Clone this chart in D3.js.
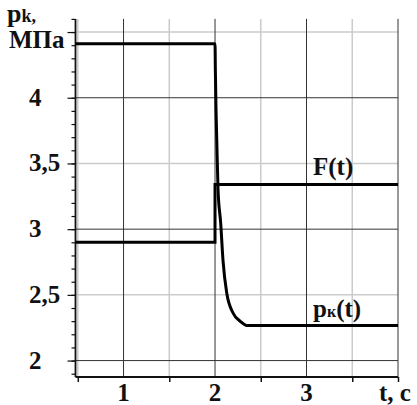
<!DOCTYPE html>
<html>
<head>
<meta charset="utf-8">
<script src="https://cdn.jsdelivr.net/npm/d3@7"></script>
<style>
  body { margin: 0; background: #fff; }
  text { font-family: "Liberation Serif", "Times New Roman", serif; font-weight: bold; fill: #111; }
</style>
</head>
<body>
<div id="chart"></div>
<script>
var w = 417;
var h = 405;

// F(t) step
var fTime = [0.475, 2.0, 2.0, 4.0];
var fValue = [2.9, 2.9, 3.34, 3.34];

// p_k(t)
var pTime = [0.475, 2.0, 2.004, 2.011, 2.019, 2.033, 2.062, 2.087, 2.128, 2.197, 2.273, 2.36, 4.0];
var pValue = [4.41, 4.41, 4.2, 3.906, 3.678, 3.30, 3.046, 2.765, 2.514, 2.362, 2.301, 2.266, 2.266];

var yMajor = [2, 3, 4];
var yHalf = [2.5, 3.5, 4.5];
var yLabels = ["2", "2,5", "3", "3,5", "4"];
var yLabelVals = [2, 2.5, 3, 3.5, 4];
var xMajor = [1, 2, 3, 4];
var xHalf = [0.5, 1.5, 2.5, 3.5];
var xLabels = ["1", "2", "3"];

var x = d3.scaleLinear().domain([0.475, 4]).range([75.5, 398]);
var y = d3.scaleLinear().domain([1.875, 4.6]).range([377, 18.9]);

var svg = d3.select("#chart")
    .append("svg")
    .attr("width", w)
    .attr("height", h);

// light grid at halves
svg.selectAll(".hgl").data(yHalf).enter().append("line")
    .attr("x1", x(0.475)).attr("x2", x(4))
    .attr("y1", function(d) { return y(d); }).attr("y2", function(d) { return y(d); })
    .attr("stroke", "#cbcbcb").attr("stroke-width", 1.5);
svg.selectAll(".vgl").data(xHalf).enter().append("line")
    .attr("y1", y(4.6)).attr("y2", y(1.875))
    .attr("x1", function(d) { return x(d); }).attr("x2", function(d) { return x(d); })
    .attr("stroke", "#cbcbcb").attr("stroke-width", 1.5);

// dark grid at integers
svg.selectAll(".hgd").data(yMajor).enter().append("line")
    .attr("x1", x(0.475)).attr("x2", x(4))
    .attr("y1", function(d) { return y(d); }).attr("y2", function(d) { return y(d); })
    .attr("stroke", "#333").attr("stroke-width", 1);
svg.selectAll(".vgd").data(xMajor).enter().append("line")
    .attr("y1", y(4.6)).attr("y2", y(1.875))
    .attr("x1", function(d) { return x(d); }).attr("x2", function(d) { return x(d); })
    .attr("stroke", "#333").attr("stroke-width", 1);

// axes
svg.append("g")
    .attr("transform", "translate(" + x(0.475) + ",0)")
    .call(d3.axisLeft(y).tickValues(d3.range(19, 47).map(function(d) { return d / 10; })).tickSize(4).tickFormat(""))
    .call(function(g) { g.select(".domain").remove(); })
    .selectAll("line").attr("stroke", "#111").attr("stroke-width", 1.2);
svg.append("g")
    .attr("transform", "translate(" + x(0.475) + ",0)")
    .call(d3.axisLeft(y).tickValues(yLabelVals.concat([4.5])).tickSize(8).tickFormat(""))
    .call(function(g) { g.select(".domain").remove(); })
    .selectAll("line").attr("stroke", "#111").attr("stroke-width", 1.2);
svg.append("g")
    .attr("transform", "translate(0," + y(1.875) + ")")
    .call(d3.axisBottom(x).tickValues(xHalf.concat([4])).tickSize(5).tickFormat(""))
    .call(function(g) { g.select(".domain").remove(); })
    .selectAll("line").attr("stroke", "#111").attr("stroke-width", 1.5);

svg.append("line")
    .attr("x1", x(0.475)).attr("x2", x(0.475)).attr("y1", y(4.6)).attr("y2", y(1.875))
    .attr("stroke", "#111").attr("stroke-width", 1.8);
svg.append("line")
    .attr("x1", x(0.475)).attr("x2", x(4)).attr("y1", y(1.875)).attr("y2", y(1.875))
    .attr("stroke", "#111").attr("stroke-width", 1.8);

// curves
var fLine = d3.line()
    .x(function(d, i) { return x(fTime[i]); })
    .y(function(d) { return y(d); });
svg.append("path")
    .attr("d", fLine(fValue))
    .attr("fill", "none").attr("stroke", "#000").attr("stroke-width", 3);

var pLine = d3.line()
    .x(function(d, i) { return x(pTime[i]); })
    .y(function(d) { return y(d); })
    .curve(d3.curveMonotoneX);
svg.append("path")
    .attr("d", pLine(pValue))
    .attr("fill", "none").attr("stroke", "#000").attr("stroke-width", 3);

// tick labels
svg.selectAll(".yl").data(yLabelVals).enter().append("text")
    .attr("x", 29)
    .attr("y", function(d) { return y(d) + 8; })
    .attr("font-size", 25)
    .text(function(d, i) { return yLabels[i]; });
svg.selectAll(".xl").data([1, 2, 3]).enter().append("text")
    .attr("x", function(d) { return x(d); })
    .attr("y", 401)
    .attr("text-anchor", "middle")
    .attr("font-size", 25)
    .text(function(d, i) { return xLabels[i]; });
svg.append("text").attr("x", 379).attr("y", 401).attr("font-size", 25).text("t, c");

// axis titles
var pk = svg.append("text").attr("x", 7).attr("y", 22).attr("font-size", 26);
pk.append("tspan").text("p");
pk.append("tspan").attr("font-size", 18).text("k,");
svg.append("text").attr("x", 9).attr("y", 48).attr("font-size", 25).text("МПа");

// series labels
svg.append("text").attr("x", 313).attr("y", 175).attr("font-size", 25).text("F(t)");
var pl = svg.append("text").attr("x", 313).attr("y", 317).attr("font-size", 25);
pl.append("tspan").text("p");
pl.append("tspan").attr("font-size", 16).text("к");
pl.append("tspan").text("(t)");
</script>
</body>
</html>
